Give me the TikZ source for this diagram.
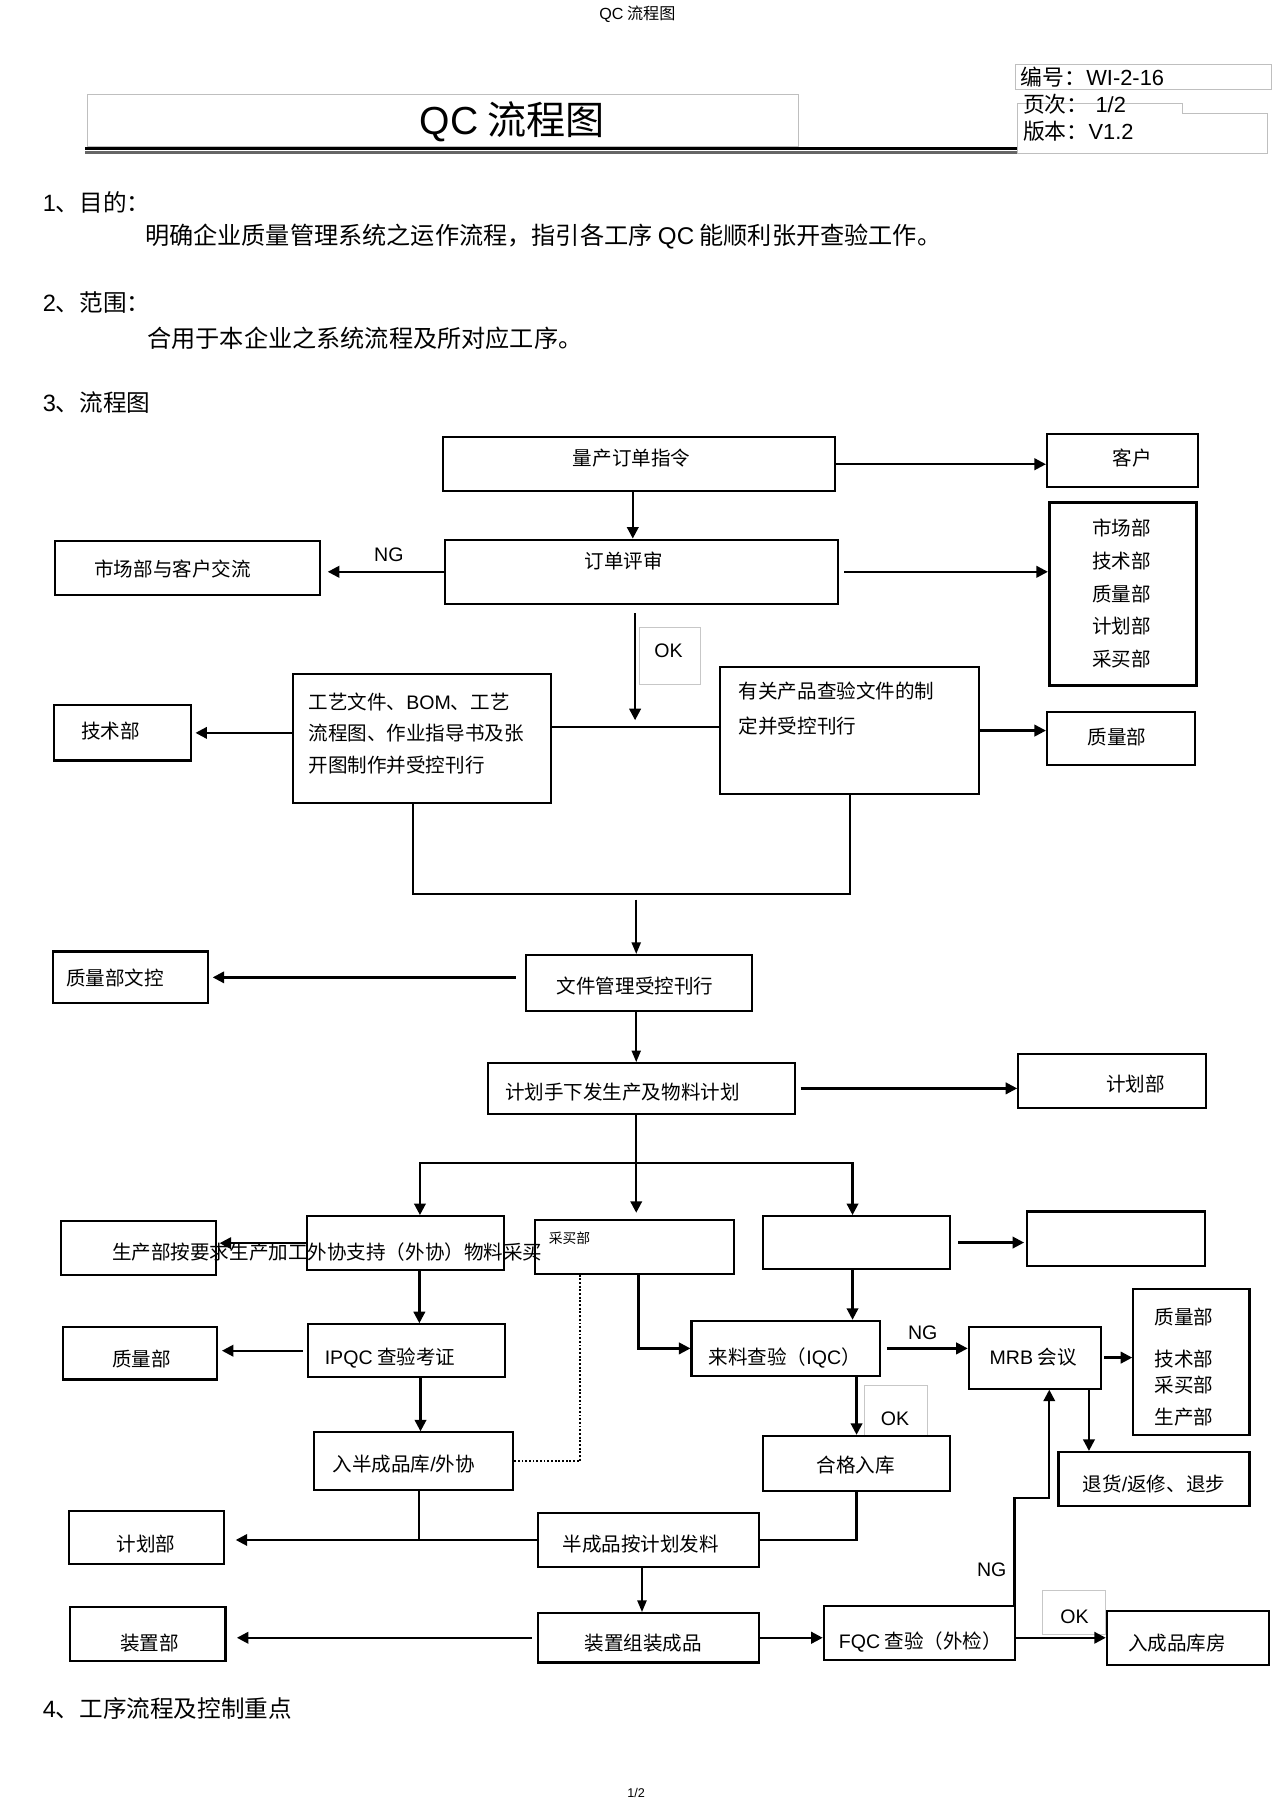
\documentclass[tikz,border=0pt]{standalone}
\usepackage{fontspec}
\setmainfont{Noto Sans CJK SC}
\newfontfamily\lat{Liberation Sans}
\usetikzlibrary{arrows.meta,calc}
\newcommand\drawbox[6][]{\node[box,#1,minimum width={#5-#3},minimum height={#6-#4}] (#2) at ({(#3+#5)/2},{(#4+#6)/2}) {};}
\tikzset{
  box/.style={draw, line width=1.8pt, inner sep=0pt},
  lbl/.style={draw=black!22, line width=0.7pt},
  txt/.style={inner sep=0pt, font=\fontsize{17}{20}\selectfont},
  sec/.style={inner sep=0pt, anchor=west, font=\fontsize{20.5}{24}\selectfont},
  ln/.style={line width=2pt},
  lnt/.style={line width=1.3pt},
  arr/.style={line width=2pt, -{Triangle[length=10pt,width=10pt]}},
  arrt/.style={line width=1.3pt, -{Triangle[length=10pt,width=8pt]}},
}
\begin{document}
\begin{tikzpicture}[x=1pt,y=-1pt]
\fill[white] (0,0) rectangle (1107,1568);
\useasboundingbox (0,0) rectangle (1107,1568);

% page header
\node[inner sep=0pt, font=\fontsize{14}{16}\selectfont] (hdr) at (554,12) {{\lat QC} 流程图};
\draw[black!25, line width=0.8pt] (76,82) rectangle (694,127);
\node[inner sep=0pt, font=\fontsize{34}{36}\selectfont] (title) at (445,106) {{\lat QC} 流程图};
\draw[line width=3pt] (74,129) -- (884,129);
\draw[black!60, line width=2pt] (74,132.5) -- (884,132.5);
\draw[black!25, line width=0.8pt] (883,56) rectangle (1105,78);
\draw[black!25, line width=0.8pt] (884,90) -- (1028,90) -- (1028,99) -- (1102,99) -- (1102,133) -- (884,133) -- cycle;
\node[inner sep=0pt, anchor=west, font=\fontsize{19}{22}\selectfont] (bh1) at (887,67) {编号：{\lat WI-2-16}};
\node[inner sep=0pt, anchor=west, font=\fontsize{19}{22}\selectfont] (bh2) at (889,91) {页次：\hspace{6pt}{\lat 1/2}};
\node[inner sep=0pt, anchor=west, font=\fontsize{19}{22}\selectfont] (bh3) at (889,114) {版本：{\lat V1.2}};

% sections
\node[sec] (s1) at (37,176) {{\lat 1}、目的：};
\node[sec, font=\fontsize{21}{24}\selectfont] (s1b) at (126,206) {明确企业质量管理系统之运作流程，指引各工序 {\lat QC} 能顺利张开查验工作。};
\node[sec] (s2) at (37,263) {{\lat 2}、范围：};
\node[sec, font=\fontsize{21}{24}\selectfont] (s2b) at (128,294) {合用于本企业之系统流程及所对应工序。};
\node[sec] (s3) at (37,350) {{\lat 3}、流程图};
\node[sec] (s4) at (37,1485) {{\lat 4}、工序流程及控制重点};
\node[inner sep=0pt, font=\fontsize{11}{13}\selectfont] (foot) at (553,1558) {{\lat 1/2}};

% boxes
\drawbox{b1}{385}{380}{726}{427}
\drawbox{b2}{910}{377}{1041}{423}
\drawbox{b3}{387}{469}{728}{525}
\drawbox{b4}{48}{470}{278}{517}
\drawbox[line width=2.4pt]{b5}{912}{437}{1040}{596}
\drawbox[lbl]{ok1}{556}{545}{609}{595}
\drawbox{b7}{255}{586}{479}{698}
\drawbox{b8}{47}{613}{166}{661}
\drawbox{b9}{626}{580}{851}{690}
\drawbox{b10}{910}{619}{1039}{665}
\drawbox{b13}{457}{830}{654}{879}
\drawbox{b14}{46}{827}{181}{872}
\drawbox{b16}{424}{924}{691}{968}
\drawbox{b17}{885}{916}{1048}{963}
\drawbox{b19}{53}{1061}{188}{1108}
\drawbox{b20}{267}{1057}{438}{1104}
\drawbox{b21}{465}{1060}{638}{1107}
\drawbox{b22}{663}{1057}{826}{1103}
\drawbox{b23}{893}{1053}{1047}{1100}
\drawbox{b25}{268}{1151}{439}{1197}
\drawbox{b26}{55}{1153}{189}{1199}
\drawbox{b28}{273}{1245}{446}{1295}
\drawbox{b32}{601}{1148}{765}{1196}
\drawbox{b34}{842}{1153}{957}{1207}
\drawbox{b36}{985}{1120}{1086}{1247}
\drawbox{b38}{920}{1262}{1086}{1309}
\drawbox[lbl]{ok2}{751}{1204}{806}{1248}
\drawbox{b40}{663}{1248}{826}{1296}
\drawbox{b43}{468}{1315}{660}{1362}
\drawbox{b44}{60}{1313}{195}{1359}
\drawbox{b46}{468}{1402}{660}{1445}
\drawbox{b47}{61}{1397}{196}{1444}
\drawbox{b49}{716}{1396}{882}{1443}
\drawbox[lbl]{ok3}{906}{1382}{961}{1421}
\drawbox{b52}{962}{1400}{1103}{1447}

% box texts
\node[txt] (t1) at (549,398) {量产订单指令};
\node[txt] (t2) at (984,398) {客户};
\node[txt] (t3) at (542,488) {订单评审};
\node[txt] (t4) at (150,495) {市场部与客户交流};
\node[txt, align=center, font=\fontsize{17}{28.5}\selectfont] (t5) at (975,516) {市场部\\技术部\\质量部\\计划部\\采买部};
\node[txt] (tok1) at (581,566) {\lat OK};
\node[txt, align=left, anchor=west, font=\fontsize{17}{27.5}\selectfont] (t7) at (268,637.5) {工艺文件、{\lat BOM}、工艺\\流程图、作业指导书及张\\开图制作并受控刊行};
\node[txt] (t8) at (96,635) {技术部};
\node[txt, align=left, anchor=west, font=\fontsize{17}{30}\selectfont] (t9) at (642,616) {有关产品查验文件的制\\定并受控刊行};
\node[txt] (t10) at (971,641) {质量部};
\node[txt] (t13) at (552,857) {文件管理受控刊行};
\node[txt] (t14) at (100,850) {质量部文控};
\node[txt] (t16) at (541,949) {计划手下发生产及物料计划};
\node[txt] (t17) at (987,942) {计划部};
\node[txt, font=\fontsize{12}{14}\selectfont] (t21) at (495,1076) {采买部};
\node[txt] (t25) at (339,1180) {{\lat IPQC} 查验考证};
\node[txt] (t26) at (123,1181) {质量部};
\node[txt] (t28) at (351,1273) {入半成品库{\lat /}外协};
\node[txt] (t32) at (682,1180) {来料查验（{\lat IQC}）};
\node[txt] (t34) at (898,1180) {{\lat MRB} 会议};
\node[txt, align=center, font=\fontsize{17}{23}\selectfont] (t36) at (1029,1188.5) {质量部\\[13pt]技术部\\采买部\\[5pt]生产部};
\node[txt] (t38) at (1003,1290) {退货{\lat /}返修、退步};
\node[txt] (tok2) at (778,1233) {\lat OK};
\node[txt] (t40) at (744,1273) {合格入库};
\node[txt] (t43) at (557,1342) {半成品按计划发料};
\node[txt] (t44) at (127,1342) {计划部};
\node[txt] (t46) at (559,1428) {装置组装成品};
\node[txt] (t47) at (130,1428) {装置部};
\node[txt] (t49) at (800,1427) {{\lat FQC} 查验（外检）};
\node[txt] (tok3) at (934,1405) {\lat OK};
\node[txt] (t52) at (1023,1428) {入成品库房};
\node[txt] (tng1) at (338,482) {\lat NG};
\node[txt] (tng2) at (802,1158) {\lat NG};
\node[txt] (tng3) at (862,1364) {\lat NG};

% connectors
\draw[arr] (b1.east) -- (b1.east -| b2.west);
\draw[arr] ([xshift=-5.5pt]b1.south) -- ([xshift=-5.5pt]b1.south |- b3.north);
\draw[arr, shorten >=6pt] (b3.west) -- (b3.west -| b4.east);
\draw[arr, shorten <=5pt] (b3.east) -- (b3.east -| b5.west);
\coordinate (hl) at (552,632);
\draw[ln] (hl -| b7.east) -- (hl -| b9.west);
\draw[arr, shorten <=7pt, shorten >=6pt] (hl |- b3.south) -- (hl);
\draw[arr, shorten >=3pt] (b7.west |- b8.east) -- (b8.east);
\draw[arr] (b9.east) -- (b9.east -| b10.west);
\coordinate (m) at (553,777);
\draw[ln] ([xshift=-8pt]b7.south) |- (m) -| (b9.south);
\draw[arrt, shorten <=5pt] (m) -- (m |- b13.north);
\draw[arr, shorten <=8pt, shorten >=3pt] (b13.west |- b14.east) -- (b14.east);
\draw[arrt] (m |- b13.south) -- (m |- b16.north);
\draw[arr, shorten <=4pt] (b16.east) -- (b16.east -| b17.west);
\coordinate (br) at (553,1011);
\draw[ln] (m |- b16.south) -- (br);
\draw[arr] (br) -| ([xshift=12.5pt]b20.north);
\draw[arr] (br) -| ([xshift=-3.5pt]b22.north);
\draw[arr, shorten >=5pt] (br) -- (br |- b21.north);
\draw[arr, shorten >=2pt] (b20.west) -- (b20.west -| b19.east);
\draw[arr, shorten <=6pt, shorten >=2pt] (b22.east) -- (b22.east -| b23.west);
\draw[arr] ([xshift=12pt]b20.south) -- ([xshift=12pt]b20.south |- b25.north);
\draw[arr, shorten <=4pt, shorten >=3pt] (b25.west) -- (b25.west -| b26.east);
\draw[arr] ([xshift=12pt]b25.south) -- ([xshift=12pt]b25.south |- b28.north);
\draw[line width=1.3pt, dash pattern=on 1.6pt off 1.6pt] ([xshift=-47.5pt]b21.south) |- (b28.east);
\draw[arr] ([xshift=3.5pt]b21.south) |- (b32.west);
\draw[arr] ([xshift=-3.5pt]b22.south) -- ([xshift=-3.5pt]b22.south |- b32.north);
\draw[arr, shorten <=5pt] (b32.east) -- (b32.east -| b34.west);
\draw[arr, shorten <=2pt] (b34.east) -- (b34.east -| b36.west);
\draw[arr] ([xshift=47pt]b34.south) -- ([xshift=47pt]b34.south |- b38.north);
\draw[arr] (b40.north |- b32.south) -- (b40.north);
\draw[ln] ([xshift=4.5pt]b28.south) -- ([xshift=4.5pt]b28.south |- b43.west);
\draw[arr, shorten >=9pt] (b43.west) -- (b43.west -| b44.east);
\draw[ln] (b40.south) |- (b43.east);
\draw[arrt] ([xshift=-6pt]b43.south) -- ([xshift=-6pt]b43.south |- b46.north);
\draw[arr, shorten <=5pt, shorten >=9pt] (b46.west) -- (b46.west -| b47.east);
\draw[arr] (b46.east) -- (b46.east -| b49.west);
\draw[arr] (b49.east |- b52.west) -- (b52.west);
\draw[arr] ([xshift=-1pt]b49.north east) -- ++(0,-93) -| ([xshift=12.5pt]b34.south);

% overflowing text of the production box
\node[txt] (t20) at (284.5,1088) {生产部按要求生产加工外协支持（外协）物料采买};
\end{tikzpicture}
\end{document}
